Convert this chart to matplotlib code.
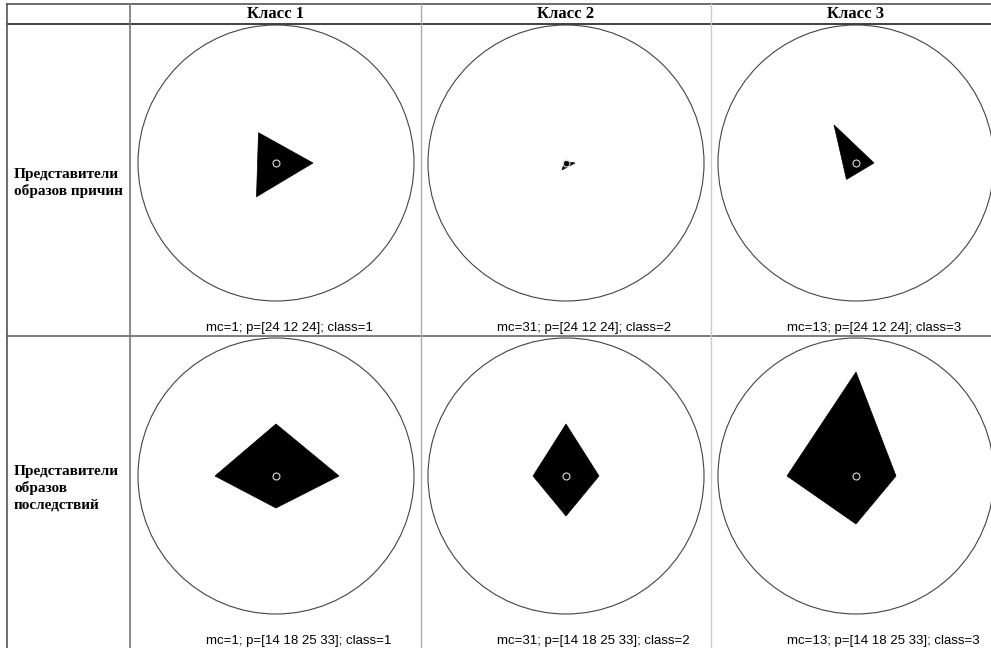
import numpy as np
import matplotlib
matplotlib.use('Agg')
import matplotlib.pyplot as plt
from matplotlib.lines import Line2D
from matplotlib.patches import Circle

W, H = 991, 648
plt.rcParams['figure.dpi'] = 100

# Column / row headers
class_names = ['Класс 1', 'Класс 2', 'Класс 3']
row_names = ['Представители\nобразов причин', 'Представители\nобразов\nпоследствий']
mc_values = [1, 31, 13]
p_rows = ['[24 12 24]', '[14 18 25 33]']

# Radial values of each polygon (outer circle = R_MAX)
R_MAX = 138
cause_r = [
    [37, 35, 39],
    [9, 2, 8],
    [18, 44, 19],
]
effect_r = [
    [63, 52, 61, 32],
    [33, 52, 33, 40],
    [40, 104, 69, 48],
]
all_rows = [cause_r, effect_r]


def fx(px):
    return px / W


def fy(py):
    return 1 - py / H


fig = plt.figure(figsize=(W / 100, H / 100))

# Table grid
def hline(y, x0, x1, color, lw):
    fig.add_artist(Line2D([fx(x0), fx(x1)], [fy(y), fy(y)], color=color, lw=lw))


def vline(x, y0, y1, color, lw):
    fig.add_artist(Line2D([fx(x), fx(x)], [fy(y0), fy(y1)], color=color, lw=lw))


hline(4, 7, 991, '#555555', 1.2)
hline(24, 7, 991, '#333333', 1.3)
hline(336, 7, 991, '#666666', 1.2)
vline(7, 4, 648, '#555555', 1.2)
vline(130, 4, 648, '#777777', 1.2)
vline(421, 4, 648, '#aaaaaa', 1.0)
vline(711, 4, 648, '#cccccc', 1.0)

col_cx = [276, 566, 856]
col_left = [130, 421, 711]
row_cy = [163, 476]
caption_y = [328, 641]
label_y = [183, 488]

for j, name in enumerate(class_names):
    fig.text(fx(col_cx[j]), fy(14), name, ha='center', va='center',
             family='Liberation Serif', weight='bold', fontsize=12)

for i, name in enumerate(row_names):
    fig.text(fx(14), fy(label_y[i]), name, ha='left', va='center',
             family='Liberation Serif', weight='bold', fontsize=11,
             linespacing=1.3)

for i, rows in enumerate(all_rows):
    for j, r in enumerate(rows):
        cx, cy = col_cx[j], row_cy[i]
        ax = fig.add_axes([fx(cx - R_MAX), fy(cy + R_MAX),
                           2 * R_MAX / W, 2 * R_MAX / H], projection='polar')
        n = len(r)
        theta = np.arange(n) * 2 * np.pi / n
        ax.fill(theta, r, color='black', lw=0.5)
        ax.plot([0], [0], marker='o', ms=5, mfc='none', mec='#dddddd', mew=0.8)
        ax.set_ylim(0, R_MAX)
        ax.set_xticks([])
        ax.set_yticks([])
        ax.xaxis.set_visible(False)
        ax.yaxis.set_visible(False)
        ax.grid(False)
        for s in ax.spines.values():
            s.set_visible(False)
        ax.patch.set_alpha(0)
        ax.add_artist(Circle((0.5, 0.5), 0.5, transform=ax.transAxes, fill=False,
                             edgecolor='#444444', lw=0.8, clip_on=False))
        fig.text(fx(col_left[j] + 76), fy(caption_y[i]),
                 f'mc={mc_values[j]}; p={p_rows[i]}; class={j + 1}',
                 ha='left', va='center', family='Liberation Sans', fontsize=9.5)

fig.savefig('out.png', dpi=100)
